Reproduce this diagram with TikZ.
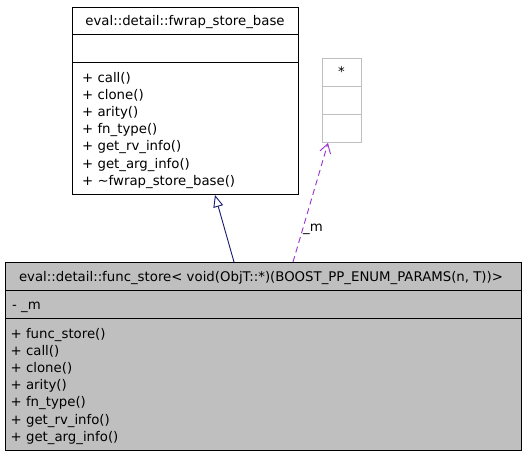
\documentclass[tikz,border=0pt]{standalone}
\usepackage{fontspec}
\setmainfont{DejaVu Sans}
\usetikzlibrary{arrows.meta}
\definecolor{boxgray}{HTML}{BFBFBF}
\definecolor{inhblue}{HTML}{191970}
\definecolor{usepurple}{HTML}{9A32CD}
\begin{document}
\begin{tikzpicture}[x=1pt,y=-1pt,
  every node/.style={font=\fontsize{13.3}{16}\selectfont, inner sep=0pt},
  classbox/.style={draw=black, line width=1pt, anchor=north west},
  gbox/.style={draw=boxgray, line width=1pt, fill=white, anchor=north west},
  txt/.style={anchor=base west},
  ctxt/.style={anchor=base},
  inh/.style={draw=inhblue, line width=0.9pt, -{Triangle[open, length=12pt, width=10pt]}},
  usearrow/.style={draw=usepurple, line width=0.9pt, dashed, dash pattern=on 6pt off 4pt, -{Straight Barb[length=9pt, width=11pt]}}]
\useasboundingbox (0,0) rectangle (525,456);
\fill[white] (0,0) rectangle (525,456);
% base class
\node[classbox, fill=white, minimum width=226pt, minimum height=187pt] (base) at (72,7) {};
\draw[line width=1pt] (72,34) -- (298,34);
\draw[line width=1pt] (72,62) -- (298,62);
\node[ctxt] (bt) at (185,25) {eval::detail::fwrap\_store\_base};
\node[txt] (b1) at (82,82) {+ call()};
\node[txt] (b2) at (82,99.2) {+ clone()};
\node[txt] (b3) at (82,116.4) {+ arity()};
\node[txt] (b4) at (82,133.6) {+ fn\_type()};
\node[txt] (b5) at (82,150.8) {+ get\_rv\_info()};
\node[txt] (b6) at (82,168) {+ get\_arg\_info()};
\node[txt] (b7) at (82,185.2) {+ \textasciitilde fwrap\_store\_base()};
% star class
\node[gbox, minimum width=39pt, minimum height=84pt] (star) at (322,58) {};
\draw[boxgray, line width=1pt] (322,86) -- (361,86);
\draw[boxgray, line width=1pt] (322,114) -- (361,114);
\node[ctxt] (st) at (341.5,76) {*};
% derived class
\node[classbox, fill=boxgray, minimum width=516pt, minimum height=188pt] (der) at (5,262) {};
\draw[line width=1pt] (5,290) -- (521,290);
\draw[line width=1pt] (5,318) -- (521,318);
\node[ctxt] (dt) at (261,281) {eval::detail::func\_store< void(ObjT::*)(BOOST\_PP\_ENUM\_PARAMS(n, T))>};
\node[txt] (da) at (12,309) {- \_m};
\node[txt] (d1) at (10.5,338) {+ func\_store()};
\node[txt] (d2) at (10.5,355.2) {+ call()};
\node[txt] (d3) at (10.5,372.4) {+ clone()};
\node[txt] (d4) at (10.5,389.6) {+ arity()};
\node[txt] (d5) at (10.5,406.8) {+ fn\_type()};
\node[txt] (d6) at (10.5,424) {+ get\_rv\_info()};
\node[txt] (d7) at (10.5,441.2) {+ get\_arg\_info()};
% connectors
\coordinate (inhS) at (der.north west -| 234,0);
\coordinate (inhE) at (base.south west -| 215,0);
\draw[inh] (inhS) -- (inhE);
\coordinate (useS) at (der.north west -| 293,0);
\coordinate (useE) at (star.south west -| 328,0);
\draw[usearrow] (useS) -- (useE);
\node[ctxt] (ml) at (313,231) {\_m};
\end{tikzpicture}
\end{document}
